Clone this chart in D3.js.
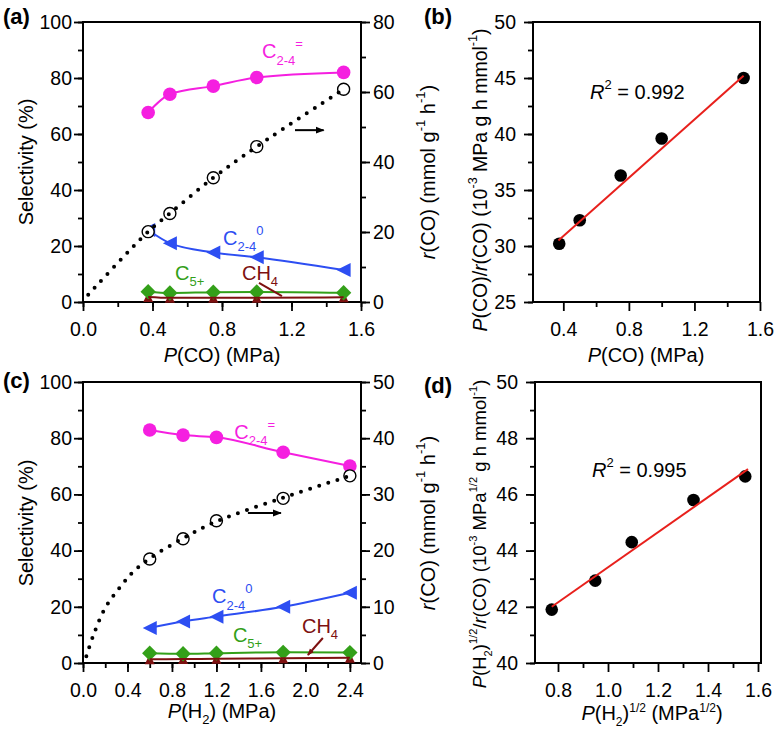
<!DOCTYPE html>
<html><head><meta charset="utf-8">
<script src="https://cdn.jsdelivr.net/npm/d3@7"></script>
<style>
html,body{margin:0;padding:0;background:#fff;}
svg text{font-family:"Liberation Sans",Arial,sans-serif;}
</style>
</head><body>
<svg id="c" width="774" height="732"></svg>
<script>
// ---------- DATA ----------
// Panel (a): varying P(CO)
const pCO = [0.375, 0.5, 0.75, 1.0, 1.5];
const selOlefinA = [67.7, 74.2, 77.1, 80.2, 82.0];
const selParaffinA = [25.7, 21.0, 17.7, 16.0, 11.4];
const selC5A = [3.7, 3.2, 3.5, 3.6, 3.3];
const selCH4A = [1.8, 1.5, 1.5, 1.5, 1.7];
const rateA = [20.1, 25.3, 35.5, 44.4, 60.8];
const rateFitAx = [0.03, 0.375, 0.5, 0.75, 1.0, 1.5];
const rateFitAy = [2.1, 20.1, 25.3, 35.5, 44.4, 60.8];
// Panel (b): P(CO)/r(CO) vs P(CO)
const linB = [30.2, 32.3, 36.3, 39.6, 45.0];
const fitBx = [0.37, 1.5];
const fitBy = [30.5, 45.2];
const r2B = "0.992";
// Panel (c): varying P(H2)
const pH2 = [0.6, 0.9, 1.2, 1.8, 2.4];
const selOlefinC = [82.9, 81.1, 80.3, 75.0, 70.1];
const selParaffinC = [12.5, 14.8, 16.5, 20.0, 25.0];
const selC5C = [3.5, 3.3, 3.5, 3.8, 3.7];
const selCH4C = [1.3, 1.4, 1.5, 1.7, 1.9];
const rateC = [18.5, 22.1, 25.3, 29.3, 33.3];
const rateFitCx = [0.03, 0.1, 0.2, 0.33, 0.45, 0.6, 0.9, 1.2, 1.8, 2.4];
const rateFitCy = [1.2, 5.3, 9.8, 13.4, 16.2, 18.6, 22.2, 25.2, 29.4, 33.3];
// Panel (d): P(H2)^1/2/r(CO) vs P(H2)^1/2
const sqrtH2 = [0.775, 0.949, 1.095, 1.342, 1.549];
const linD = [41.9, 42.93, 44.3, 45.8, 46.64];
const fitDx = [0.775, 1.56];
const fitDy = [42.0, 46.9];
const r2D = "0.995";
// Tick labels
const ticksXA = [0, 0.4, 0.8, 1.2, 1.6];
const ticksXC = [0, 0.4, 0.8, 1.2, 1.6, 2.0, 2.4];
const ticksSel = [0, 20, 40, 60, 80, 100];
const ticksRateA = [0, 20, 40, 60, 80];
const ticksRateC = [0, 10, 20, 30, 40, 50];
const ticksXB = [0.4, 0.8, 1.2, 1.6];
const ticksYB = [25, 30, 35, 40, 45, 50];
const ticksXD = [0.8, 1.0, 1.2, 1.4, 1.6];
const ticksYD = [40, 42, 44, 46, 48, 50];

// ---------- STYLE ----------
const COL = {pink:"#f51fe0", blue:"#2d4ef2", green:"#33a019", red:"#7d1010", fit:"#e8201c"};
const FS = 19.5, TS = 20;
const svg = d3.select("#c");

svg.append("defs").html(
 '<marker id="ah" viewBox="0 0 10 10" refX="9" refY="5" markerWidth="9" markerHeight="9" markerUnits="userSpaceOnUse" orient="auto"><path d="M0,1 L10,5 L0,9 z" fill="#000"/></marker>'+
 '<marker id="ahr" viewBox="0 0 10 10" refX="9" refY="5" markerWidth="7" markerHeight="7" markerUnits="userSpaceOnUse" orient="auto"><path d="M0,1 L10,5 L0,9 z" fill="'+COL.red+'"/></marker>');

function rich(g, x, y, parts, size, opts={}) {
  const t = g.append("text").attr("x", x).attr("y", y).attr("font-size", size)
    .attr("fill", opts.fill || "#000").attr("text-anchor", opts.anchor || "start");
  if (opts.rotate) t.attr("transform", `rotate(-90,${x},${y})`);
  if (opts.bold) t.attr("font-weight", "bold");
  const supK = opts.sup || 0.5, ss = opts.ss || 0.65;
  let cur = 0;
  parts.forEach(p => {
    const [s, k] = p;
    let target = 0, fs = size;
    if (k === "sub") { target = 0.32 * size; fs = ss * size; }
    if (k === "sup") { target = -supK * size; fs = ss * size; }
    const ts = t.append("tspan").text(s).attr("font-size", fs).attr("dy", target - cur);
    if (k === "i") ts.attr("font-style", "italic");
    cur = target;
  });
  return t;
}

function axes(g, x, y, o) {
  const [x0, x1] = x.range(), [y0, y1] = y.range();
  const mk = (ax, major, minor, fmt, pad) => {
    g.append("g").attr("transform", ax.tr).call(ax.f(ax.s).tickValues(minor).tickSize(5).tickFormat(""))
      .call(s => s.select(".domain").remove()).selectAll("line").attr("stroke-width", 1.8);
    const a = g.append("g").attr("transform", ax.tr).call(ax.f(ax.s).tickValues(major).tickSize(9).tickPadding(pad).tickFormat(fmt));
    a.select(".domain").remove();
    a.selectAll("line").attr("stroke-width", 1.8);
    a.selectAll("text").attr("font-size", FS).attr("fill", "#000");
  };
  mk({f: d3.axisBottom, s: x, tr: `translate(0,${y0})`}, o.xMajor, o.xMinor, o.xFmt, 11);
  mk({f: d3.axisLeft, s: y, tr: `translate(${x0},0)`}, o.yMajor, o.yMinor, o.yFmt, o.yPad || 2);
  if (o.y2) mk({f: d3.axisRight, s: o.y2, tr: `translate(${x1},0)`}, o.y2Major, o.y2Minor, o.yFmt, 3);
  g.append("rect").attr("x", x0).attr("y", y1).attr("width", x1 - x0).attr("height", y0 - y1)
    .attr("fill", "none").attr("stroke", "#000").attr("stroke-width", 2);
}

const fmtInt = d3.format("d"), fmt1 = d3.format(".1f");
function range(a, b, s) { const r = []; for (let v = a; v <= b + 1e-9; v += s) r.push(+v.toFixed(4)); return r; }

function tri(size, dir) {
  const h = size, w = size;
  if (dir === "left") return `M${-w/2},0 L${w/2},${-h/2} L${w/2},${h/2} Z`;
  return `M0,${-h/2} L${w/2},${h/2} L${-w/2},${h/2} Z`;
}

function selPanel(box, xs, xDom, xTicks, yR, rTicks, series, rate, fitX, fitY, ann) {
  const g = svg.append("g");
  const x = d3.scaleLinear().domain(xDom).range([box.l, box.r]);
  const y = d3.scaleLinear().domain([0, 100]).range([box.b, box.t]);
  const y2 = d3.scaleLinear().domain([0, yR]).range([box.b, box.t]);
  axes(g, x, y, {xMajor: xTicks, xMinor: range(0, xDom[1], 0.2), xFmt: fmt1,
    yMajor: ticksSel, yMinor: range(0, 100, 10), yFmt: fmtInt,
    y2, y2Major: rTicks, y2Minor: range(0, yR, yR / 8 === 10 ? 10 : 5)});
  const line = d3.line().x((d, i) => x(xs[i])).y(d => y(d)).curve(d3.curveMonotoneX);
  const [ole, par, c5, ch4] = series;
  // CH4 triangles
  g.selectAll(null).data(ch4).join("path").attr("d", tri(10, "up"))
    .attr("transform", (d, i) => `translate(${x(xs[i])},${y(d)})`).attr("fill", COL.red);
  // C5+
  g.append("path").attr("d", line(c5)).attr("fill", "none").attr("stroke", COL.green).attr("stroke-width", 2);
  g.selectAll(null).data(c5).join("path").attr("d", d3.symbol(d3.symbolDiamond2, 150)())
    .attr("transform", (d, i) => `translate(${x(xs[i])},${y(d)})`).attr("fill", COL.green);
  g.append("path").attr("d", line(ch4)).attr("fill", "none").attr("stroke", COL.red).attr("stroke-width", 2);
  // paraffins
  g.append("path").attr("d", line(par)).attr("fill", "none").attr("stroke", COL.blue).attr("stroke-width", 2);
  g.selectAll(null).data(par).join("path").attr("d", tri(14, "left"))
    .attr("transform", (d, i) => `translate(${x(xs[i])},${y(d)})`).attr("fill", COL.blue);
  // olefins
  g.append("path").attr("d", line(ole)).attr("fill", "none").attr("stroke", COL.pink).attr("stroke-width", 2);
  g.selectAll(null).data(ole).join("circle").attr("cx", (d, i) => x(xs[i])).attr("cy", d => y(d))
    .attr("r", 6.8).attr("fill", COL.pink);
  // rate
  g.selectAll(null).data(rate).join("circle").attr("cx", (d, i) => x(xs[i])).attr("cy", d => y2(d))
    .attr("r", 6).attr("fill", "#fff").attr("stroke", "#000").attr("stroke-width", 1.4);
  const fl = d3.line().x((d, i) => x(fitX[i])).y(d => y2(d)).curve(d3.curveCatmullRom.alpha(0.5));
  g.append("path").attr("d", fl(fitY)).attr("fill", "none").attr("stroke", "#000")
    .attr("stroke-width", 4).attr("stroke-linecap", "round").attr("stroke-dasharray", "0,9.5");
  // annotations
  rich(g, x(ann.ole[0]), y(ann.ole[1]), [["C"], ["2-4", "sub"], ["=", "sup"]], TS, {fill: COL.pink});
  rich(g, x(ann.par[0]), y(ann.par[1]), [["C"], ["2-4", "sub"], ["0", "sup"]], TS, {fill: COL.blue});
  rich(g, x(ann.c5[0]), y(ann.c5[1]), [["C"], ["5+", "sub"]], TS, {fill: COL.green});
  rich(g, x(ann.ch4[0]), y(ann.ch4[1]), [["CH"], ["4", "sub"]], TS, {fill: COL.red});
  const L = ann.lead;
  const ld = g.append("line").attr("x1", x(L[0])).attr("y1", y(L[1])).attr("x2", x(L[2])).attr("y2", y(L[3]))
    .attr("stroke", COL.red).attr("stroke-width", 2);
  if (ann.leadArrow) ld.attr("marker-end", "url(#ahr)");
  const A = ann.arrow;
  g.append("line").attr("x1", x(A[0])).attr("y1", y2(A[2])).attr("x2", x(A[1])).attr("y2", y2(A[2]))
    .attr("stroke", "#000").attr("stroke-width", 2).attr("marker-end", "url(#ah)");
  return g;
}

function linPanel(box, xs, ys, xDom, yDom, xMajor, xMinor, yMajor, yMinor, xFmt, fx, fy, r2, r2pos) {
  const g = svg.append("g");
  const x = d3.scaleLinear().domain(xDom).range([box.l, box.r]);
  const y = d3.scaleLinear().domain(yDom).range([box.b, box.t]);
  axes(g, x, y, {xMajor, xMinor, xFmt, yMajor, yMinor, yFmt: fmtInt, yPad: 8});
  g.selectAll(null).data(ys).join("circle").attr("cx", (d, i) => x(xs[i])).attr("cy", d => y(d))
    .attr("r", 6.3).attr("fill", "#000");
  g.append("path").attr("d", d3.line().x((d, i) => x(fx[i])).y(d => y(d))(fy))
    .attr("fill", "none").attr("stroke", COL.fit).attr("stroke-width", 2);
  rich(g, x(r2pos[0]), y(r2pos[1]), [["R", "i"], ["2", "sup"], [" = " + r2]], TS);
}

// Panel (a)
selPanel({l: 83, r: 361, t: 22, b: 302}, pCO, [0, 1.6], ticksXA, 80, ticksRateA,
  [selOlefinA, selParaffinA, selC5A, selCH4A], rateA, rateFitAx, rateFitAy,
  {ole: [1.03, 87.1], par: [0.806, 20.4], c5: [0.53, 7.9], ch4: [0.915, 7.9],
   lead: [1.013, 6.8, 1.145, 2.1], leadArrow: false, arrow: [1.22, 1.385, 49.1]});
// Panel (c)
selPanel({l: 83, r: 361, t: 382, b: 663}, pH2, [0, 2.5], ticksXC, 50, ticksRateC,
  [selOlefinC, selParaffinC, selC5C, selCH4C], rateC, rateFitCx, rateFitCy,
  {ole: [1.36, 79.8], par: [1.16, 21.3], c5: [1.348, 7.5], ch4: [1.969, 10.7],
   lead: [2.157, 8.9, 2.022, 2.85], leadArrow: true, arrow: [1.483, 1.78, 26.7]});
// Panel (b)
linPanel({l: 533, r: 760, t: 22, b: 302}, pCO, linB, [0.215, 1.6], [25, 50],
  ticksXB, [0.6, 1.0, 1.4], ticksYB, range(25, 50, 2.5), fmt1, fitBx, fitBy, r2B, [0.563, 43.1]);
// Panel (d)
linPanel({l: 535, r: 761, t: 382, b: 663}, sqrtH2, linD, [0.708, 1.612], [40, 50],
  ticksXD, [0.9, 1.1, 1.3, 1.5], ticksYD, range(40, 50, 1), fmt1, fitDx, fitDy, r2D, [0.936, 46.62]);

// ---------- TITLES ----------
const T = svg.append("g");
rich(T, 3, 24, [["(a)"]], 22, {bold: true});
rich(T, 424, 24, [["(b)"]], 22, {bold: true});
rich(T, 3, 388, [["(c)"]], 22, {bold: true});
rich(T, 424, 393, [["(d)"]], 22, {bold: true});
// y titles
rich(T, 33, 162, [["Selectivity (%)"]], TS, {rotate: true, anchor: "middle"});
rich(T, 33, 523, [["Selectivity (%)"]], TS, {rotate: true, anchor: "middle"});
const rTitle = [["r", "i"], ["(CO) (mmol g"], ["-1", "sup"], [" h"], ["-1", "sup"], [")"]];
rich(T, 435, 172, rTitle, TS, {rotate: true, anchor: "middle"});
rich(T, 435, 523, rTitle, TS, {rotate: true, anchor: "middle"});
rich(T, 487, 180, [["P", "i"], ["(CO)/"], ["r", "i"], ["(CO) (10"], ["-3", "sup"], [" MPa g h mmol"], ["-1", "sup"], [")"]], 19.5, {rotate: true, anchor: "middle"});
rich(T, 486, 534, [["P", "i"], ["(H"], ["2", "sub"], [")"], ["1/2", "sup"], ["/"], ["r", "i"], ["(CO) (10"], ["-3", "sup"], [" MPa"], ["1/2", "sup"], [" g h mmol"], ["-1", "sup"], [")"]], 18.5, {rotate: true, anchor: "middle", ss: 0.6});
// x titles
rich(T, 222, 362, [["P", "i"], ["(CO) (MPa)"]], TS, {anchor: "middle"});
rich(T, 646, 362, [["P", "i"], ["(CO) (MPa)"]], TS, {anchor: "middle"});
rich(T, 222, 718, [["P", "i"], ["(H"], ["2", "sub"], [") (MPa)"]], TS, {anchor: "middle"});
rich(T, 652, 720, [["P", "i"], ["(H"], ["2", "sub"], [")"], ["1/2", "sup"], [" (MPa"], ["1/2", "sup"], [")"]], TS, {anchor: "middle", sup: 0.42, ss: 0.6});
</script>
</body></html>
